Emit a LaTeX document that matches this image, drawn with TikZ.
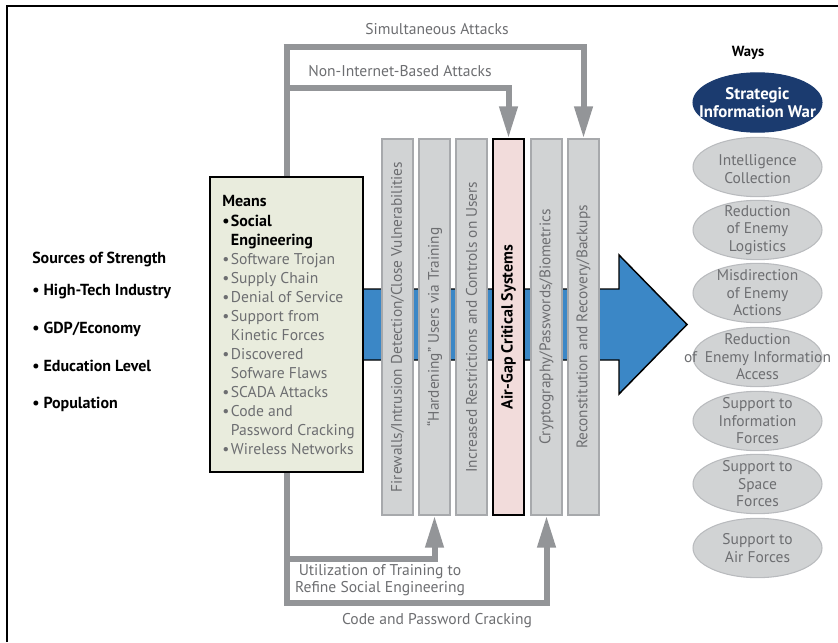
\documentclass[tikz,border=0pt]{standalone}
\usepackage{fontspec}
\setmainfont{PT Sans}
\usetikzlibrary{arrows.meta,shapes.geometric}
\definecolor{arrowgray}{HTML}{939598}
\definecolor{txtgray}{HTML}{6D6E71}
\definecolor{barfill}{HTML}{D1D3D4}
\definecolor{barline}{HTML}{A7A9AC}
\definecolor{pinkfill}{HTML}{F2DCDB}
\definecolor{meansfill}{HTML}{E9ECDD}
\definecolor{bluefill}{HTML}{3B87C6}
\definecolor{navy}{HTML}{1B3B6F}
\definecolor{ellline}{HTML}{B9BBBE}
\newcommand\bul{\makebox[6.5pt][l]{•}}
\newcommand\indt{\hspace*{6.5pt}}
\newcommand\mbold[1]{{\fontsize{12}{14.3}\selectfont\bfseries #1}}
\begin{document}
\begin{tikzpicture}[x=0.75pt,y=-0.75pt,
  txt/.style={font=\fontsize{11.7}{14.3}\selectfont, inner sep=0pt},
  gtxt/.style={txt, text=txtgray},
  btxt/.style={font=\fontsize{12}{14}\selectfont\bfseries, inner sep=0pt},
  garrow/.style={draw=arrowgray, line width=4.5pt, line join=miter, -{Triangle[length=24pt,width=13pt]}},
  gline/.style={draw=arrowgray, line width=4.5pt, line join=miter},
  barbox/.style={draw=barline, fill=barfill, line width=0.8pt, minimum width=23.25pt, minimum height=282pt, inner sep=0pt, text=txtgray, font=\fontsize{11.5}{13}\selectfont},
  keybar/.style={barbox, draw=black, fill=pinkfill, text=black, font=\fontsize{12}{13}\selectfont\bfseries},
  way/.style={ellipse, draw=ellline, fill=barfill, line width=0.8pt, minimum width=96.75pt, minimum height=44.5pt, inner sep=0pt},
  waytxt/.style={align=center, text=txtgray, font=\fontsize{11.6}{13.1}\selectfont, inner sep=0pt}
]
\useasboundingbox (0,0) rectangle (838,642);
% frame
\draw[line width=1.5pt] (7,642) -- (7,6) -- (838,6);

% blue arrow
\filldraw[fill=bluefill, draw=black, line width=1.1pt, line join=miter]
  (363,289) -- (619,289) -- (619,255) -- (687,324.5) -- (619,394) -- (619,360) -- (363,360);

% bars
\node[barbox] (b1) at (397.5,327) {\rotatebox{90}{Firewalls/Intrusion Detection/Close Vulnerabilities}};
\node[barbox] (b2) at (434.5,327) {\rotatebox{90}{“Hardening” Users via Training}};
\node[barbox] (b3) at (471.5,327) {\rotatebox{90}{Increased Restrictions and Controls on Users}};
\node[keybar] (b4) at (508.5,327) {\rotatebox{90}{Air-Gap Critical Systems}};
\node[barbox] (b5) at (546.5,327) {\rotatebox{90}{Cryptography/Passwords/Biometrics}};
\node[barbox] (b6) at (583.5,327) {\rotatebox{90}{Reconstitution and Recovery/Backups}};

% means box
\node[draw=black, fill=meansfill, line width=1.3pt, minimum width=114.75pt, minimum height=221.25pt, inner sep=0pt] (means) at (286.5,324.5) {};
\node[txt, anchor=north west, align=left] (meanstxt) at (222,195.5) {%
\mbold{Means}\\
\mbold{\bul Social}\\
\mbold{\indt Engineering}\\
\textcolor{txtgray}{\bul Software Trojan}\\
\textcolor{txtgray}{\bul Supply Chain}\\
\textcolor{txtgray}{\bul Denial of Service}\\
\textcolor{txtgray}{\bul Support from}\\
\textcolor{txtgray}{\indt Kinetic Forces}\\
\textcolor{txtgray}{\bul Discovered}\\
\textcolor{txtgray}{\indt Sofware Flaws}\\
\textcolor{txtgray}{\bul SCADA Attacks}\\
\textcolor{txtgray}{\bul Code and}\\
\textcolor{txtgray}{\indt Password Cracking}\\
\textcolor{txtgray}{\bul Wireless Networks}};

% gray connectors
\coordinate (s1) at (286.5,47);
\coordinate (n1) at (286.5,88);
\coordinate (u1) at (286.5,559);
\coordinate (c1) at (286.5,603);
\draw[gline] (means.north) -- (s1);
\draw[garrow] ([xshift=-2.25pt]s1) -| (b6.north);
\draw[garrow] (n1) -| (b4.north);
\draw[gline] (means.south) -- ([yshift=-2.25pt]c1);
\draw[garrow] (c1) -| (b5.south);
\draw[garrow] (u1) -| (b2.south);

% connector labels
\node[gtxt, anchor=base] (lsim) at (437,35) {Simultaneous Attacks};
\node[gtxt, anchor=base] (lnon) at (400,77) {Non-Internet-Based Attacks};
\node[gtxt, align=center, font=\fontsize{11.7}{12.9}\selectfont] (luti) at (380,580.5) {Utilization of Training to\\Refine Social Engineering};
\node[gtxt, anchor=base] (lcode) at (437,624) {Code and Password Cracking};

% sources of strength
\node[btxt, anchor=base west] (src) at (32,263) {Sources of Strength};
\node[btxt, anchor=base west] (src1) at (32,295) {• High-Tech Industry};
\node[btxt, anchor=base west] (src2) at (32,333) {• GDP/Economy};
\node[btxt, anchor=base west] (src3) at (32,371) {• Education Level};
\node[btxt, anchor=base west] (src4) at (32,408) {• Population};

% ways
\node[btxt, anchor=base, font=\fontsize{11}{13}\selectfont\bfseries] (ways) at (748,56) {Ways};
\node[way, draw=navy, fill=navy] (w0) at (757.5,102.5) {};
\node[waytxt, text=white, font=\fontsize{12.6}{13.6}\selectfont\bfseries] (w0t) at (w0) {Strategic\\Information War};
\node[way] (w1) at (757.5,167) {};
\node[waytxt] (w1t) at ([yshift=-1.5pt]w1) {Intelligence\\Collection};
\node[way] (w2) at (757.5,230) {};
\node[waytxt] (w2t) at (w2) {Reduction\\of Enemy\\Logistics};
\node[way] (w3) at (757.5,293) {};
\node[waytxt] (w3t) at (w3) {Misdirection\\of Enemy\\Actions};
\node[way] (w4) at (757.5,357) {};
\node[waytxt] (w4t) at (w4) {Reduction\\of\enspace Enemy Information\\Access};
\node[way] (w5) at (757.5,421) {};
\node[waytxt] (w5t) at (w5) {Support to\\Information\\Forces};
\node[way] (w6) at (757.5,484) {};
\node[waytxt] (w6t) at (w6) {Support to\\Space\\Forces};
\node[way] (w7) at (757.5,548) {};
\node[waytxt] (w7t) at (w7) {Support to\\Air Forces};
\end{tikzpicture}
\end{document}
